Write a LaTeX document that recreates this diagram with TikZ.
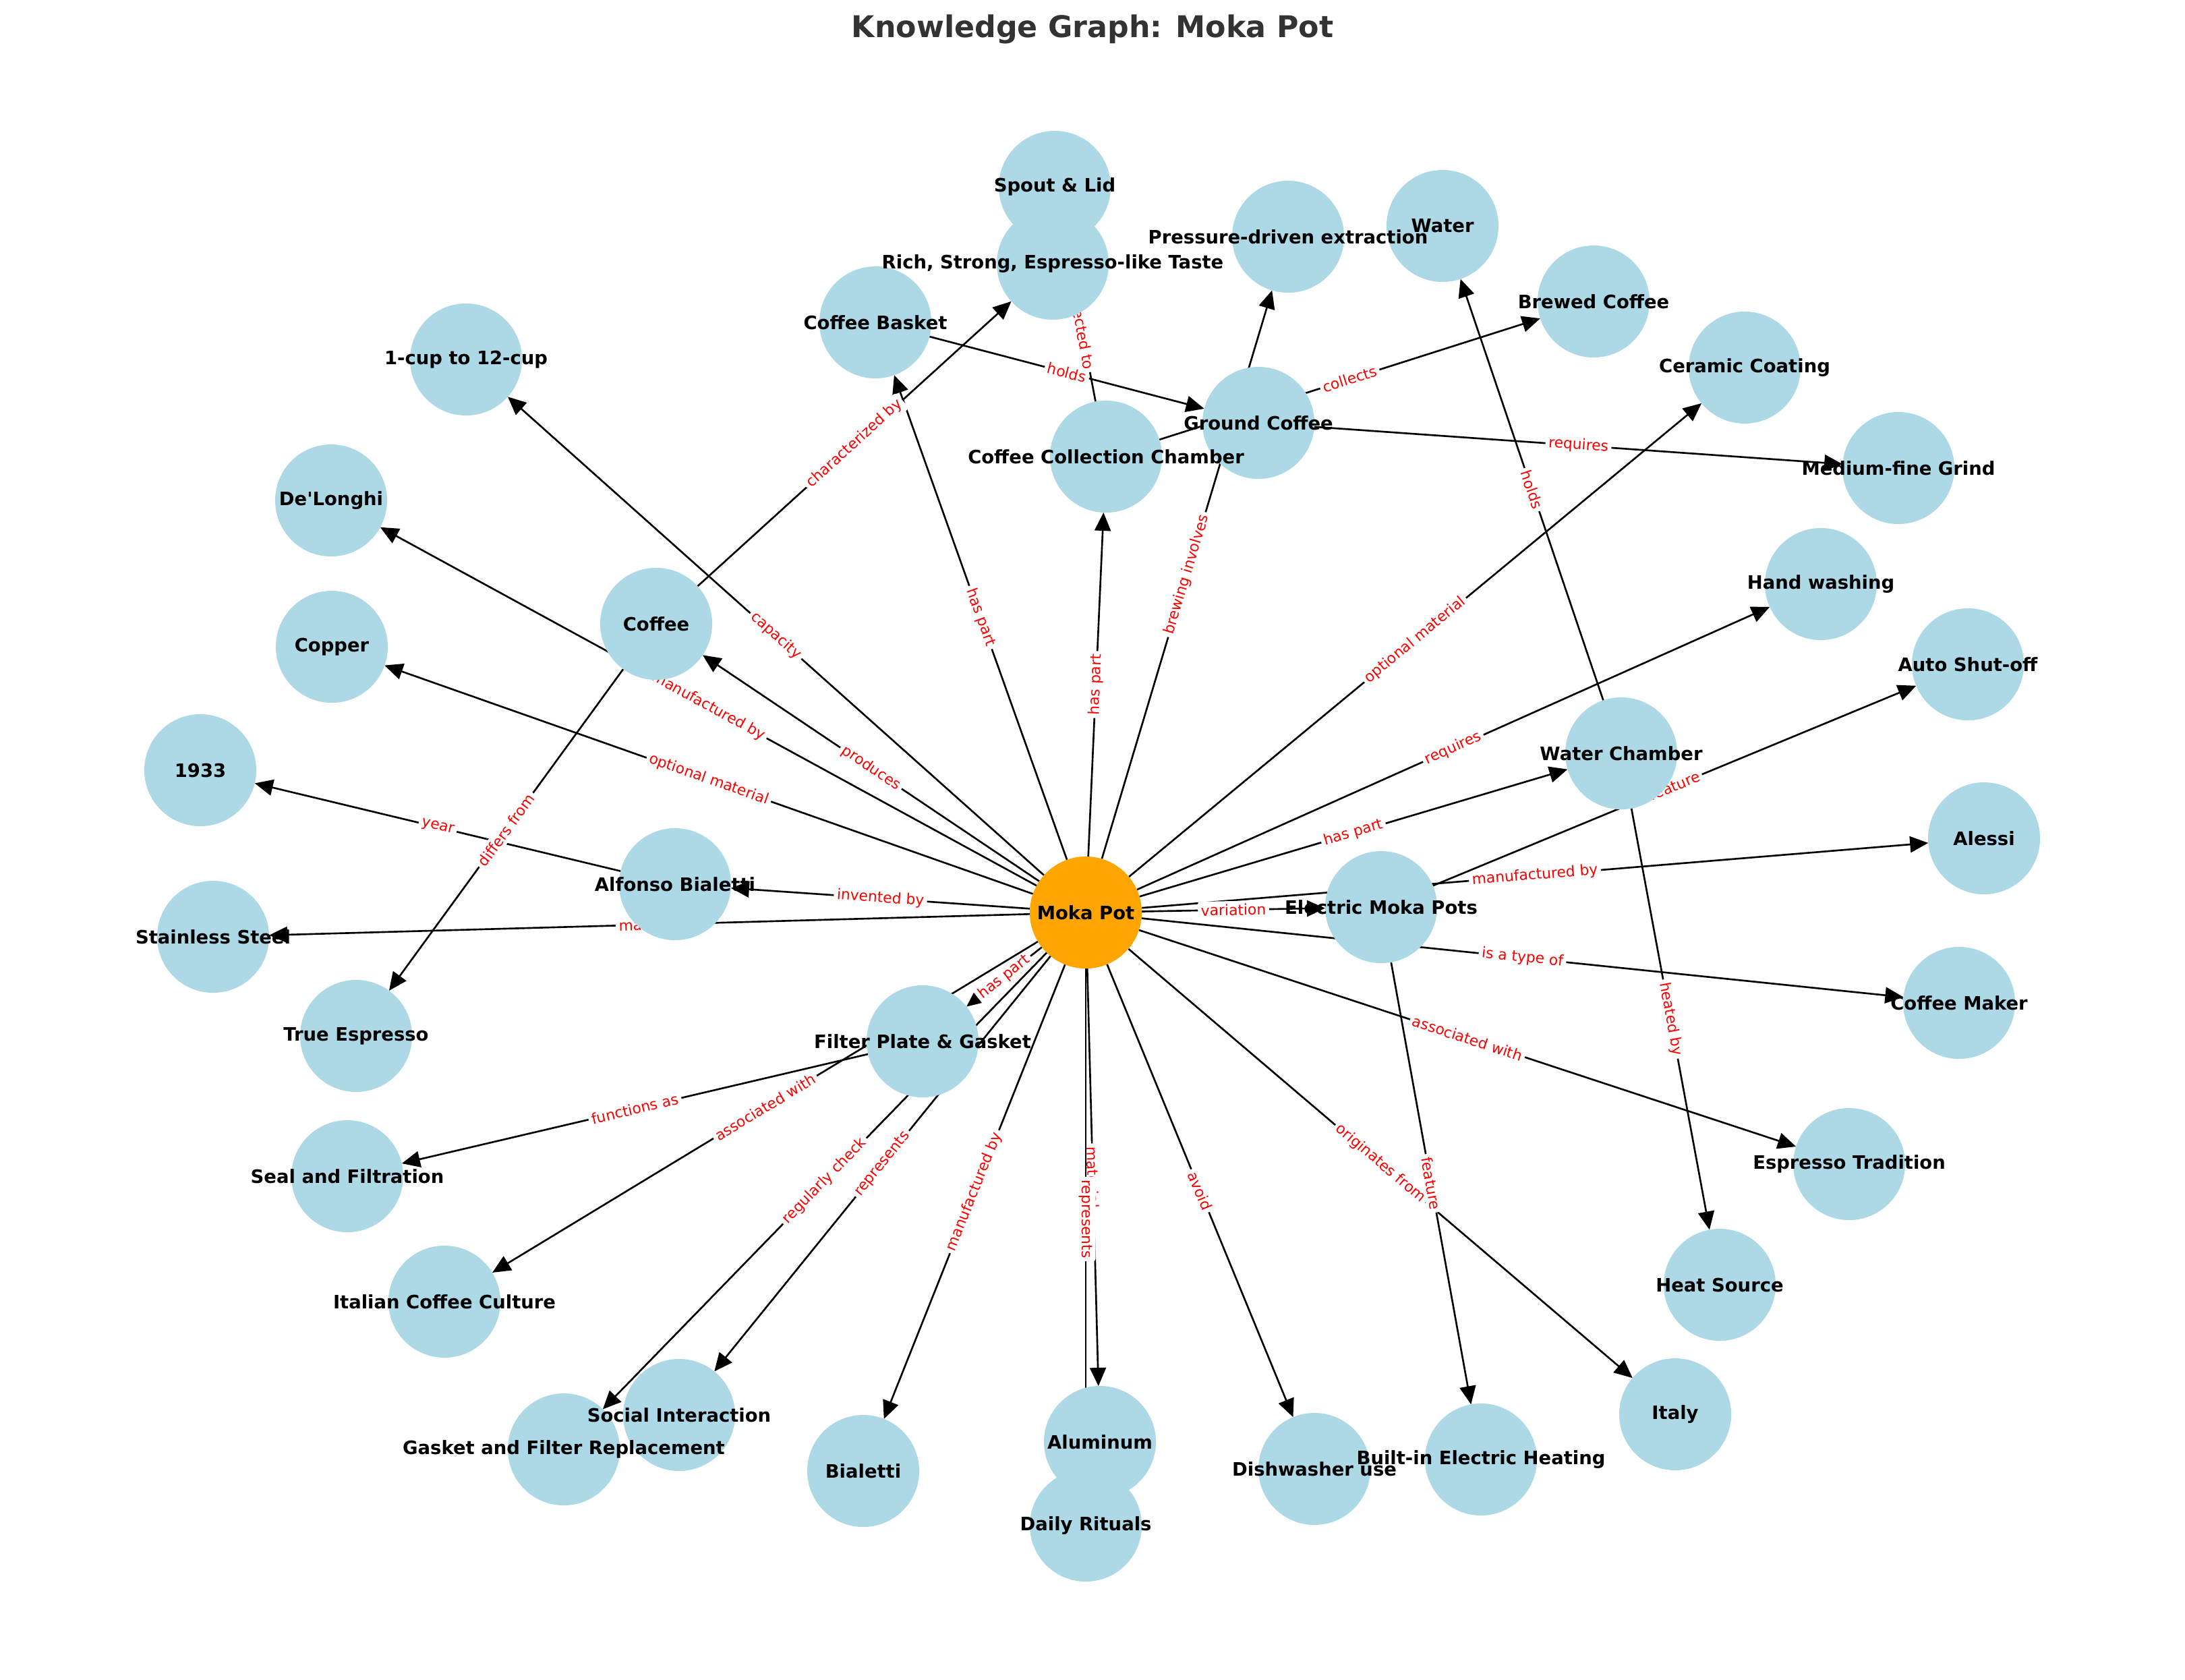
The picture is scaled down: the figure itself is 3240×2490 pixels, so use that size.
\documentclass[tikz,border=0pt]{standalone}
\usepackage{fontspec}
\setmainfont{DejaVu Sans}
\usetikzlibrary{arrows.meta,backgrounds}
\definecolor{conceptblue}{HTML}{ADD8E6}
\definecolor{hubornage}{HTML}{FFA500}
\definecolor{titlegray}{HTML}{333333}
\tikzset{>={Triangle[length=2.7mm,width=2.4mm]}}
\tikzset{
  concept/.style={circle, fill=conceptblue, minimum size=1.66cm, inner sep=0pt, outer sep=0pt},
  hub/.style={concept, fill=hubornage},
  cname/.style={font=\bfseries\fontsize{7.8}{9}\selectfont, inner sep=0pt},
  rel/.style={->, line width=0.75pt},
  rlabel/.style={midway, sloped, fill=white, rounded corners=1pt, text=red, inner sep=1.3pt, font=\fontsize{6.2}{7}\selectfont}
}

\begin{document}
\begin{tikzpicture}[x=0.01cm, y=-0.01cm]
    \useasboundingbox (0,0) rectangle (3240,2490);
    \node[anchor=base, text=titlegray, font=\bfseries\fontsize{12.6}{15}\selectfont] (title) at (1620,55) {Knowledge Graph: Moka Pot};
    \node[hub] (moka) at (1610,1353) {};
    \foreach \n/\x/\y in {spout/1564/277, rich/1561/391, basket/1298/478, pressure/1910/351, water/2139/335,
        brewed/2363/447, ceramic/2587/545, grind/2815/694, ground/1866/627, collect/1640/677, cups/691/533,
        delonghi/491/742, coffee/973/925, copper/492/959, y1933/297/1142, alfonso/1001/1311, steel/316/1389,
        espresso/528/1536, seal/515/1744, filter/1368/1544, culture/659/1930, social/1007/2098, gasket/836/2149,
        bialetti/1280/2181, aluminum/1631/2138, rituals/1610/2262, dishwasher/1949/2178, heating/2196/2164,
        italy/2484/2097, heat/2550/1905, tradition/2742/1726, maker/2905/1487, alessi/2942/1243,
        electric/2048/1345, chamber/2404/1117, washing/2700/866, shutoff/2918/985}
        \node[concept] (\n) at (\x,\y) {};
    \begin{scope}[on background layer]
    \foreach \src/\dst/\lbl in {moka/basket/has part, moka/collect/has part, moka/pressure/brewing involves,
        moka/cups/capacity, moka/delonghi/manufactured by, moka/coffee/produces, moka/copper/optional material,
        moka/alfonso/invented by, alfonso/y1933/year, moka/steel/material, coffee/espresso/differs from,
        coffee/rich/characterized by, moka/filter/has part, filter/seal/functions as, moka/culture/associated with,
        moka/gasket/regularly check, moka/social/represents, moka/bialetti/manufactured by, moka/aluminum/material,
        moka/rituals/represents, moka/dishwasher/avoid, moka/italy/originates from, electric/heating/feature,
        moka/tradition/associated with, moka/maker/is a type of, moka/alessi/manufactured by, moka/electric/variation,
        electric/shutoff/feature, moka/chamber/has part, moka/washing/requires, moka/ceramic/optional material,
        chamber/water/holds, chamber/heat/heated by, collect/brewed/collects, basket/ground/holds,
        collect/spout/connected to, ground/grind/requires}
        \draw[rel] (\src) -- (\dst) node[rlabel] {\lbl};
    \end{scope}
    \node[cname] (moka-t) at (moka) {Moka Pot};
    \foreach \n/\txt in {spout/Spout \& Lid, {rich/Rich, Strong, Espresso-like Taste}, basket/Coffee Basket,
        pressure/Pressure-driven extraction, water/Water, brewed/Brewed Coffee, ceramic/Ceramic Coating,
        grind/Medium-fine Grind, ground/Ground Coffee, collect/Coffee Collection Chamber, cups/1-cup to 12-cup,
        delonghi/De\textquotesingle Longhi, coffee/Coffee, copper/Copper, y1933/1933, alfonso/Alfonso Bialetti,
        steel/Stainless Steel, espresso/True Espresso, seal/Seal and Filtration, filter/Filter Plate \& Gasket,
        culture/Italian Coffee Culture, social/Social Interaction, gasket/Gasket and Filter Replacement,
        bialetti/Bialetti, aluminum/Aluminum, rituals/Daily Rituals, dishwasher/Dishwasher use,
        heating/Built-in Electric Heating, italy/Italy, heat/Heat Source, tradition/Espresso Tradition,
        maker/Coffee Maker, alessi/Alessi, electric/Electric Moka Pots, chamber/Water Chamber,
        washing/Hand washing, shutoff/Auto Shut-off}
        \node[cname] (\n-t) at (\n) {\txt};
\end{tikzpicture}
\end{document}
